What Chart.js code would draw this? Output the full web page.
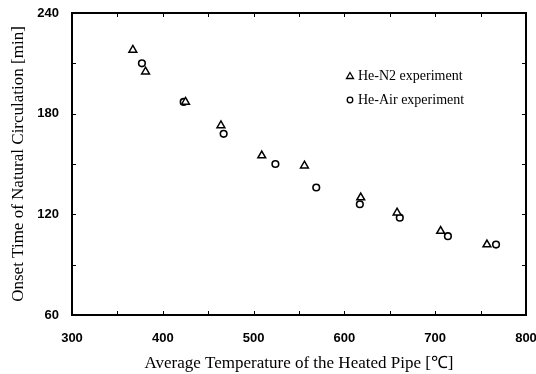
<!DOCTYPE html>
<html><head><meta charset="utf-8">
<script src="https://cdn.jsdelivr.net/npm/chart.js@4/dist/chart.umd.min.js"></script>
<style>html,body{margin:0;padding:0;background:#fff}#wrap{width:536px;height:374px}</style>
</head><body><div id="wrap"><canvas id="c" width="536" height="374"></canvas></div>
<script>
const n2Temp = [367, 381, 425, 464, 509, 556, 618, 658, 706, 757];
const n2Time = [218, 205, 187, 173, 155, 149, 130, 121, 110, 102];
const airTemp = [377, 423, 467, 524, 569, 617, 661, 714, 767];
const airTime = [210, 187, 168, 150, 136, 126, 118, 107, 102];
const seriesLabels = ['He-N2 experiment', 'He-Air experiment'];
const xTitle = 'Average Temperature of the Heated Pipe [\u2103]';
const yTitle = 'Onset Time of Natural Circulation [min]';

const SERIF = "'Liberation Serif','Times New Roman',serif";
const SANS = "'Liberation Sans',Arial,sans-serif";

const frameAndTicks = {
  id: 'frameAndTicks',
  afterDraw(chart) {
    const {ctx, chartArea: a, scales: {x, y}} = chart;
    ctx.save();
    ctx.strokeStyle = '#000';
    ctx.lineWidth = 2;
    ctx.strokeRect(a.left, a.top, a.right - a.left, a.bottom - a.top);
    ctx.lineWidth = 1;
    ctx.beginPath();
    for (let v = 300; v <= 800; v += 50) {
      const px = Math.round(x.getPixelForValue(v)) + 0.5;
      ctx.moveTo(px, a.bottom); ctx.lineTo(px, a.bottom - 4);
      ctx.moveTo(px, a.top); ctx.lineTo(px, a.top + 4);
    }
    for (let v = 60; v <= 240; v += 30) {
      const py = Math.round(y.getPixelForValue(v)) + 0.5;
      ctx.moveTo(a.left, py); ctx.lineTo(a.left + 4, py);
      ctx.moveTo(a.right, py); ctx.lineTo(a.right - 4, py);
    }
    ctx.stroke();
    // legend inside plot
    const lx = 350, ly = [76, 100];
    ctx.font = "14px " + SERIF;
    ctx.fillStyle = '#000';
    ctx.textBaseline = 'middle';
    chart.data.datasets.forEach((ds, i) => {
      const yy = ly[i];
      ctx.lineWidth = 1.3;
      ctx.beginPath();
      if (i === 0) {
        ctx.moveTo(lx, yy - 3.5); ctx.lineTo(lx + 3.5, yy + 2.5); ctx.lineTo(lx - 3.5, yy + 2.5); ctx.closePath();
      } else {
        ctx.arc(lx, yy, 2.8, 0, Math.PI * 2);
      }
      ctx.stroke();
      ctx.fillText(ds.label, lx + 8, yy);
    });
    ctx.restore();
  }
};

new Chart(document.getElementById('c'), {
  type: 'scatter',
  data: {
    datasets: [
      { label: seriesLabels[0], data: n2Temp.map((t, i) => ({x: t, y: n2Time[i]})),
        pointStyle: 'triangle', pointRadius: 4.5, borderColor: '#000', backgroundColor: '#fff', borderWidth: 1.5 },
      { label: seriesLabels[1], data: airTemp.map((t, i) => ({x: t, y: airTime[i]})),
        pointStyle: 'circle', pointRadius: 3.3, borderColor: '#000', backgroundColor: '#fff', borderWidth: 1.6 }
    ]
  },
  options: {
    responsive: false, animation: false,
    layout: { padding: { left: 0, top: 13, right: 10, bottom: 0 } },
    plugins: { legend: { display: false }, tooltip: { enabled: false } },
    scales: {
      x: {
        type: 'linear', min: 300, max: 800,
        grid: { display: false, drawTicks: false }, border: { display: false },
        ticks: { stepSize: 100, padding: 16, color: '#000', font: { family: SANS, size: 13, weight: 'bold' } },
        title: { display: true, text: xTitle, color: '#000', font: { family: SERIF, size: 17 }, padding: { top: 4, bottom: 0 } },
        afterFit(s) { s.height = 59; s.paddingLeft = 0; s.paddingRight = 0; s.paddingTop = 0; s.paddingBottom = 0; }
      },
      y: {
        min: 60, max: 240,
        grid: { display: false, drawTicks: false }, border: { display: false },
        ticks: { stepSize: 60, padding: 13, color: '#000', font: { family: SANS, size: 13, weight: 'bold' } },
        title: { display: true, text: yTitle, color: '#000', font: { family: SERIF, size: 17 }, padding: { top: 8, bottom: 0 } },
        afterFit(s) { s.width = 72; s.paddingLeft = 0; s.paddingRight = 0; s.paddingTop = 0; s.paddingBottom = 0; }
      }
    }
  },
  plugins: [frameAndTicks]
});
</script></body></html>
